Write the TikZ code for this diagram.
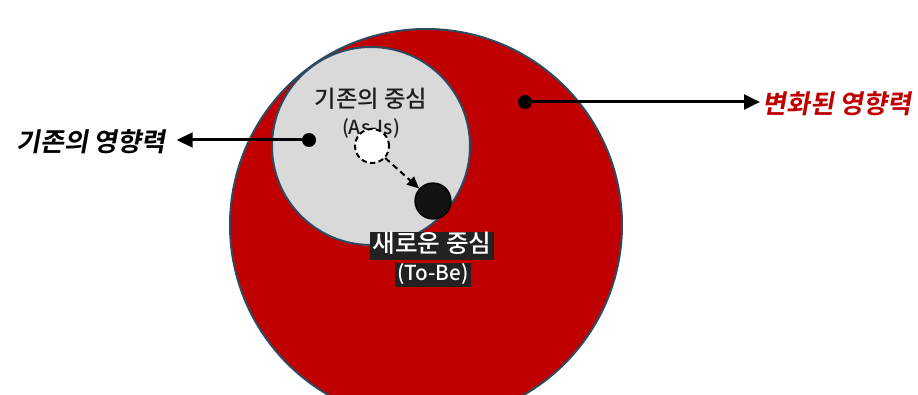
\documentclass[tikz,border=0pt]{standalone}
\usepackage{fontspec}
\newfontfamily\kr{Noto Sans CJK KR Medium}
\newfontfamily\krbsl{Noto Sans CJK KR Bold}[FakeSlant=0.18]
\usetikzlibrary{arrows.meta}
\definecolor{redfill}{HTML}{C00000}
\definecolor{rim}{HTML}{2E4A62}
\definecolor{grayfill}{HTML}{D9D9D9}
\definecolor{labelbg}{HTML}{222222}
\definecolor{darktext}{HTML}{1E1E1E}
\tikzset{
  ring/.style={circle, draw=rim, line width=1.5pt, inner sep=0pt},
  dotnode/.style={circle, fill=black, inner sep=0pt, minimum size=10.5pt},
  leader/.style={line width=2.25pt, -{Triangle[length=12pt,width=11pt]}},
  sidelabel/.style={inner sep=0pt, font=\krbsl\fontsize{19.5}{22}\selectfont},
  darkbox/.style={fill=labelbg, text=white, inner ysep=1pt, inner xsep=1.5pt}
}
\begin{document}
\begin{tikzpicture}[x=0.75pt,y=-0.75pt]
\useasboundingbox (0,0) rectangle (918,395);
\clip (0,0) rectangle (918,395);
\fill[white] (0,0) rectangle (918,395);
% circles
\node[ring, fill=redfill, minimum size=294pt] (outer) at (426,225) {};
\node[ring, fill=grayfill, minimum size=148.5pt] (inner) at (371,146) {};
% inner texts
\node[text=darktext, font=\kr\fontsize{17.5}{20}\selectfont] (oldc) at (371,99) {기존의 중심};
\node[text=darktext, font=\kr\fontsize{14.5}{16}\selectfont] (asis) at (371,128) {(As-Is)};
% centres
\node[circle, draw=black, dashed, dash pattern=on 4pt off 2.5pt, line width=1.5pt, fill=white, inner sep=0pt, minimum size=25.5pt] (wc) at (372,146) {};
\node[circle, draw=black, line width=1pt, fill=black!93, inner sep=0pt, minimum size=27pt] (bc) at (433,201) {};
\draw[line width=1.5pt, dash pattern=on 4.5pt off 3pt, -{Triangle[length=9pt,width=8pt]}] (wc) -- (bc);
% new centre labels
\node[darkbox, font=\kr\fontsize{18.5}{20}\selectfont, text height=14.5pt, text depth=4pt] (newc) at (432,246) {새로운 중심};
\node[darkbox, font=\kr\fontsize{15.5}{17}\selectfont, text height=12pt, text depth=4pt] (tobe) at (433,275) {(To-Be)};
% influence leaders
\node[dotnode] (ldot) at (309,140) {};
\node[sidelabel, text=black, anchor=east] (llab) at (166,142) {기존의 영향력};
\draw[leader, shorten >=8pt] (ldot.center) -- (ldot.center -| llab.east);
\node[dotnode] (rdot) at (525,102) {};
\node[sidelabel, text=redfill, anchor=west] (rlab) at (762,104) {변화된 영향력};
\draw[leader, shorten >=1.5pt] (rdot.center) -- (rdot.center -| rlab.west);
\end{tikzpicture}
\end{document}
